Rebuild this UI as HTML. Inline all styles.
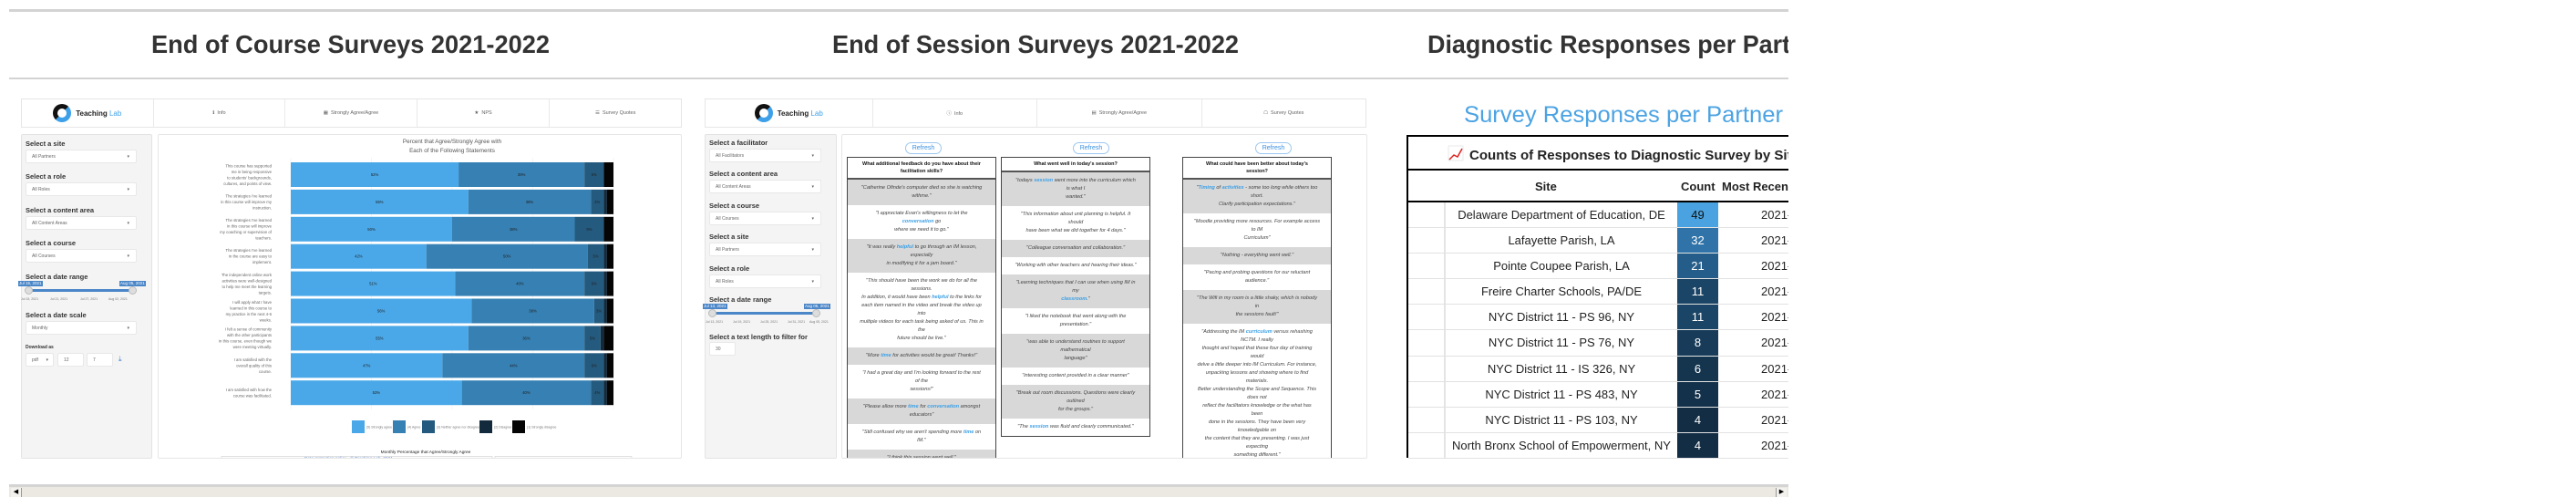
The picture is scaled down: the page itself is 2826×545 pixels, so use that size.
<!DOCTYPE html>
<html><head><meta charset="utf-8">
<style>
*{box-sizing:border-box;margin:0;padding:0}
body{width:2826px;height:545px;background:#fff;overflow:hidden;font-family:"Liberation Sans",sans-serif;position:relative}
.abs{position:absolute}
.hline{position:absolute;left:10px;width:1952px;background:#d3d3d3}
.nav{position:absolute;top:108px;height:32px;background:#fff;border:1px solid #e6e6e6;display:flex}
.nav div{border-left:1px solid #e9e9e9;font-size:5.5px;color:#666;display:flex;align-items:center;justify-content:center;height:100%}
.nav div:first-child{border-left:none}
.side{position:absolute;top:147px;height:356px;background:#f4f4f4;border:1px solid #e3e3e3;border-radius:2px}
.lbl{position:absolute;left:4px;font-size:7.5px;font-weight:bold;color:#333;white-space:nowrap}
.inp{position:absolute;left:4px;height:15px;background:#fff;border:1px solid #e8e8e8;border-radius:2px;font-size:5px;color:#666;padding-left:6px;line-height:14px}
.inp .car{position:absolute;right:7px;top:0;font-size:5px}
.main{position:absolute;top:147px;height:356px;background:#fff;border:1px solid #e6e6e6;border-radius:2px;overflow:hidden}
.logo{display:flex;align-items:center;gap:5px}
.logo .c{width:20px;height:20px;border-radius:50%;border:5px solid #111;border-right-color:#3ea0e8;border-bottom-color:#3ea0e8}
.logo span{font-size:8px;color:#222;font-weight:bold}
.logo span b{color:#3ea0e8;font-weight:normal}
.qt{position:absolute;top:24px;width:164px;border:1.5px solid #444;background:#fff}
.qt .h{font-size:5.5px;font-weight:bold;text-align:center;line-height:8px;padding:3px 2px;border-bottom:2px solid #555;color:#111}
.qt .r{font-size:5.6px;font-style:italic;text-align:center;line-height:9px;padding:5px 2px;color:#444;white-space:nowrap;overflow:hidden}
.qt .g{background:#d8d8d8}
.qt b{color:#3a9fe6}
.refresh{position:absolute;top:8px;width:40px;height:13px;border:1px solid #9cc8f0;border-radius:7px;font-size:7px;color:#3a90e0;text-align:center;line-height:11px}
.slider{position:absolute;height:3px;background:#4a86c8}
.knob{position:absolute;width:9px;height:9px;border-radius:50%;background:#ddd;border:1px solid #bbb}
.badge{position:absolute;font-size:4.5px;color:#fff;background:#4a86c8;padding:0 1px;line-height:6px;white-space:nowrap}
.tick{position:absolute;font-size:3.5px;color:#777;white-space:nowrap}
table.diag{border-collapse:collapse;font-size:13px;color:#222}
</style></head><body>
<div class="abs" style="left:0;top:0;width:1962px;height:545px;overflow:hidden">

<div class="hline" style="top:10px;height:3px"></div>
<div class="hline" style="top:85px;height:2px"></div>

<svg class="abs" style="left:0;top:0" width="1962" height="80">
<text x="166" y="58" font-family="Liberation Sans" font-weight="bold" font-size="28" fill="#333" textLength="437" lengthAdjust="spacingAndGlyphs">End of Course Surveys 2021-2022</text>
<text x="913" y="58" font-family="Liberation Sans" font-weight="bold" font-size="28" fill="#333" textLength="446" lengthAdjust="spacingAndGlyphs">End of Session Surveys 2021-2022</text>
<text x="1566" y="58" font-family="Liberation Sans" font-weight="bold" font-size="28" fill="#333" textLength="440" lengthAdjust="spacingAndGlyphs">Diagnostic Responses per Partner</text>
</svg>

<!-- PANEL 1 -->
<div class="nav" style="left:23px;width:725px">
 <div style="width:144px" class="logo"><i class="c"></i><span>Teaching <b>Lab</b></span></div>
 <div style="width:145px">ℹ&nbsp; Info</div>
 <div style="width:145px">▦&nbsp; Strongly Agree/Agree</div>
 <div style="width:146px">★&nbsp; NPS</div>
 <div style="width:145px">☰&nbsp; Survey Quotes</div>
</div>
<div class="side" style="left:23px;width:144px">
 <div class="lbl" style="top:5px">Select a site</div>
 <div class="inp" style="top:16px;width:122px">All Partners<span class="car">▾</span></div>
 <div class="lbl" style="top:41px">Select a role</div>
 <div class="inp" style="top:52px;width:122px">All Roles<span class="car">▾</span></div>
 <div class="lbl" style="top:78px">Select a content area</div>
 <div class="inp" style="top:89px;width:122px">All Content Areas<span class="car">▾</span></div>
 <div class="lbl" style="top:114px">Select a course</div>
 <div class="inp" style="top:125px;width:122px">All Courses<span class="car">▾</span></div>
 <div class="lbl" style="top:151px">Select a date range</div>
 <div class="badge" style="left:-4px;top:160px">Jul 15, 2021</div>
 <div class="badge" style="left:107px;top:160px">Aug 05, 2021</div>
 <div class="slider" style="left:8px;width:114px;top:169px"></div>
 <div class="knob" style="left:3px;top:166px"></div>
 <div class="knob" style="left:117px;top:166px"></div>
 <div class="tick" style="left:-1px;top:178px">Jul 15, 2021</div><div class="tick" style="left:31px;top:178px">Jul 21, 2021</div><div class="tick" style="left:64px;top:178px">Jul 27, 2021</div><div class="tick" style="left:95px;top:178px">Aug 02, 2021</div>
 <div class="lbl" style="top:193px">Select a date scale</div>
 <div class="inp" style="top:204px;width:122px">Monthly<span class="car">▾</span></div>
 <div class="lbl" style="top:230px;font-size:5px">Download as</div>
 <div class="inp" style="top:239px;width:31px">pdf<span class="car" style="right:5px">▾</span></div>
 <div class="inp" style="top:239px;left:39px;width:29px">12</div>
 <div class="inp" style="top:239px;left:71px;width:29px">7</div>
 <div class="abs" style="left:106px;top:241px;font-size:8px;color:#3a7fd0">⤓</div>
</div>
<div class="main" style="left:173px;width:575px">
 <svg id="chart" class="abs" style="left:-173px;top:-147px" width="748" height="503"></svg>
</div>

<!-- PANEL 2 -->
<div class="nav" style="left:773px;width:726px">
 <div style="width:183px" class="logo"><i class="c"></i><span>Teaching <b>Lab</b></span></div>
 <div style="width:181px">ⓘ&nbsp; Info</div>
 <div style="width:181px">▤&nbsp; Strongly Agree/Agree</div>
 <div style="width:181px">☖&nbsp; Survey Quotes</div>
</div>
<div class="side" style="left:773px;width:145px">
 <div class="lbl" style="top:4px">Select a facilitator</div>
 <div class="inp" style="top:15px;width:123px">All Facilitators<span class="car">▾</span></div>
 <div class="lbl" style="top:38px">Select a content area</div>
 <div class="inp" style="top:49px;width:123px">All Content Areas<span class="car">▾</span></div>
 <div class="lbl" style="top:73px">Select a course</div>
 <div class="inp" style="top:84px;width:123px">All Courses<span class="car">▾</span></div>
 <div class="lbl" style="top:107px">Select a site</div>
 <div class="inp" style="top:118px;width:123px">All Partners<span class="car">▾</span></div>
 <div class="lbl" style="top:142px">Select a role</div>
 <div class="inp" style="top:153px;width:123px">All Roles<span class="car">▾</span></div>
 <div class="lbl" style="top:176px">Select a date range</div>
 <div class="badge" style="left:-3px;top:185px">Jul 13, 2021</div>
 <div class="badge" style="left:108px;top:185px">Aug 05, 2021</div>
 <div class="slider" style="left:8px;width:114px;top:194px"></div>
 <div class="knob" style="left:3px;top:191px"></div>
 <div class="knob" style="left:117px;top:191px"></div>
 <div class="tick" style="left:0px;top:203px">Jul 13, 2021</div><div class="tick" style="left:30px;top:203px">Jul 19, 2021</div><div class="tick" style="left:60px;top:203px">Jul 25, 2021</div><div class="tick" style="left:90px;top:203px">Jul 31, 2021</div><div class="tick" style="left:114px;top:203px">Aug 05, 2021</div>
 <div class="lbl" style="top:217px">Select a text length to filter for</div>
 <div class="inp" style="top:227px;width:29px">30</div>
</div>
<div class="main" style="left:923px;width:577px">
 <div class="refresh" style="left:69px">Refresh</div>
 <div class="refresh" style="left:253px">Refresh</div>
 <div class="refresh" style="left:453px">Refresh</div>
 <div class="qt" style="left:5px">
  <div class="h">What additional feedback do you have about their<br>facilitation skills?</div>
  <div class="r g">"Catherine Ofinde's computer died so she is watching<br>withme."</div>
  <div class="r">"I appreciate Evan's willingness to let the<br><b>conversation</b> go<br>where we need it to go."</div>
  <div class="r g">"It was really <b>helpful</b> to go through an IM lesson,<br>especially<br>in modifying it for a jam board."</div>
  <div class="r">"This should have been the work we do for all the<br>sessions.<br>In addition, it would have been <b>helpful</b> to the links for<br>each item named in the video and break the video up<br>into<br>multiple videos for each task being asked of us. This in<br>the<br>future should be live."</div>
  <div class="r g">"More <b>time</b> for activities would be great! Thanks!"</div>
  <div class="r">"I had a great day and I'm looking forward to the rest<br>of the<br>sessions!"</div>
  <div class="r g">"Please allow more <b>time</b> for <b>conversation</b> amongst<br>educators"</div>
  <div class="r">"Still confused why we aren't spending more <b>time</b> on<br>IM."</div>
  <div class="r g">"I think this session went well."<br>&nbsp;<br>&nbsp;</div>
 </div>
 <div class="qt" style="left:174px">
  <div class="h">What went well in today's session?</div>
  <div class="r g">"todays <b>session</b> went more into the curriculum which<br>is what I<br>wanted."</div>
  <div class="r">"This information about unit planning is helpful. It<br>should<br>have been what we did together for 4 days."</div>
  <div class="r g">"Colleague conversation and collaboration."</div>
  <div class="r">"Working with other teachers and hearing their ideas."</div>
  <div class="r g">"Learning techniques that I can use when using IM in<br>my<br><b>classroom</b>."</div>
  <div class="r">"I liked the notebook that went along with the<br>presentation."</div>
  <div class="r g">"was able to understand routines to support<br>mathematical<br>language"</div>
  <div class="r">"interesting content provided in a clear manner"</div>
  <div class="r g">"Break out room discussions. Questions were clearly<br>outlined<br>for the groups."</div>
  <div class="r">"The <b>session</b> was fluid and clearly communicated."</div>
 </div>
 <div class="qt" style="left:373px">
  <div class="h">What could have been better about today's<br>session?</div>
  <div class="r g">"<b>Timing</b> of <b>activities</b> - some too long while others too<br>short.<br>Clarify participation expectations."</div>
  <div class="r">"Moodle providing more resources. For example access<br>to IM<br>Curriculum"</div>
  <div class="r g">"Nothing - everything went well."</div>
  <div class="r">"Pacing and probing questions for our reluctant<br>audience."</div>
  <div class="r g">"The Wifi in my room is a little shaky, which is nobody<br>in<br>the sessions fault!"</div>
  <div class="r">"Addressing the IM <b>curriculum</b> versus rehashing<br>NCTM. I really<br>thought and hoped that these four day of training<br>would<br>delve a little deeper into IM Curriculum. For instance,<br>unpacking lessons and showing where to find<br>materials.<br>Better understanding the Scope and Sequence. This<br>does not<br>reflect the facilitators knowledge or the what has<br>been<br>done in the sessions. They have been very<br>knowledgable on<br>the content that they are presenting. I was just<br>expecting<br>something different."</div>
 </div>
</div>

<!-- PANEL 3 -->
<svg class="abs" style="left:1500px;top:100px" width="470" height="90">
<text x="106" y="34" font-family="Liberation Sans" font-size="25" fill="#4ba3e3" textLength="350" lengthAdjust="spacingAndGlyphs">Survey Responses per Partner</text>
<text x="112" y="75" font-family="Liberation Sans" font-weight="bold" font-size="15" fill="#222" textLength="362" lengthAdjust="spacingAndGlyphs">Counts of Responses to Diagnostic Survey by Site</text>
<polyline points="90,75 95,70 99,72 104,63" fill="none" stroke="#d22" stroke-width="1.5"/>
<rect x="89" y="60" width="16" height="16" fill="none" stroke="#ddd" stroke-width="0.6"/>
</svg>
<div class="abs" style="left:1543px;top:148px;width:440px;height:354px;border-left:2px solid #000;border-top:2px solid #000">
 <div class="abs" style="left:0;top:35px;width:440px;height:2px;background:#000"></div>
 <div class="abs" style="left:0;top:70px;width:440px;height:2px;background:#000"></div>
 <div class="abs" style="left:139px;top:47px;font-size:13px;font-weight:bold;color:#222">Site</div>
 <div class="abs" style="left:299px;top:47px;font-size:13px;font-weight:bold;color:#222">Count</div>
 <div class="abs" style="left:344px;top:47px;font-size:13px;font-weight:bold;color:#222;white-space:nowrap">Most Recent</div>
 <div id="rows" class="abs" style="left:0;top:72px;width:440px"></div>
</div>

<!-- scrollbar -->
<div class="abs" style="left:10px;top:531px;width:1952px;height:3px;background:#d4d4d4"></div>
<div class="abs" style="left:10px;top:534px;width:1952px;height:11px;background:#ece9e3">
 <div class="abs" style="left:2px;top:1px;width:12px;height:10px;background:#f4f2ee;border-right:1px solid #999;font-size:7px;line-height:10px;text-align:center">◀</div>
 <div class="abs" style="left:1938px;top:1px;width:12px;height:10px;background:#f4f2ee;border-left:1px solid #999;font-size:7px;line-height:10px;text-align:center">▶</div>
</div>
</div>

<script>
// ---- bar chart data ----
const statements = [
 ["This course has supported","me in being responsive","to students' backgrounds,","cultures, and points of view."],
 ["The strategies I've learned","in this course will improve my","instruction."],
 ["The strategies I've learned","in this course will improve","my coaching or supervision of","teachers."],
 ["The strategies I've learned","in the course are easy to","implement."],
 ["The independent online work","activities were well-designed","to help me meet the learning","targets."],
 ["I will apply what I have","learned in this course to","my practice in the next 4-6","weeks."],
 ["I felt a sense of community","with the other participants","in this course. even though we","were meeting virtually."],
 ["I am satisfied with the","overall quality of this","course."],
 ["I am satisfied with how the","course was facilitated."]
];
const stronglyAgree = [52,55,50,42,51,56,55,47,53];
const agree = [39,38,38,50,40,38,36,44,40];
const neither = [6,4,9,5,6,3,5,6,4];
const disagree = [0,1,0,1,1,1,1,1,1];
const stronglyDisagree = [3,2,3,2,2,2,3,2,2];
const legendLabels = ["(5) Strongly agree","(4) Agree","(3) Neither agree nor disagree","(2) Disagree","(1) Strongly disagree"];

const NS="http://www.w3.org/2000/svg";
const svg=document.getElementById('chart');
const X0=318,X1=672,Y0=177,STEP=29.9,BH=27;
function xScale(v){return X0+(v/100)*(X1-X0);}
function yScale(i){return Y0+i*STEP;}
function mk(tag,attrs){const e=document.createElementNS(NS,tag);for(const k in attrs)e.setAttribute(k,attrs[k]);svg.appendChild(e);return e;}
const colors=["#4aa8e8","#3680b3","#245a7e","#132a3c","#050505"];
// title
[["Percent that Agree/Strongly Agree with",156],["Each of the Following Statements",166]].forEach(function(t){
 const e=mk('text',{x:495,y:t[1],'font-size':6.3,'text-anchor':'middle',fill:'#555'});e.textContent=t[0];
 
 
});
// grid
[0,25,50,75,100].forEach(function(v){
 const g=mk('line',{x1:xScale(v),x2:xScale(v),y1:172,y2:448,stroke:'#eee','stroke-width':0.6});
 
 
});
const series=[stronglyAgree,agree,neither,disagree,stronglyDisagree];
statements.forEach(function(lines,i){
 const y=yScale(i);
 let acc=0;
 series.forEach(function(s,k){
  const v=s[i];
  const r=mk('rect',{x:xScale(acc),y:y,width:Math.max(0,xScale(acc+v)-xScale(acc)),height:BH,fill:colors[k]});
  
  
  if(k<3&&v>0){
   const t=mk('text',{x:(xScale(acc)+xScale(acc+v))/2,y:y+BH/2+1.5,'font-size':4.2,'text-anchor':'middle',fill:'#222'});
   t.textContent=v+'%';
   
   
  }
  acc+=v;
 });
 const lh=6.5,start=y+BH/2-(lines.length-1)*lh/2+1.5;
 lines.forEach(function(l,j){
  const t=mk('text',{x:297,y:start+j*lh,'font-size':4.3,'text-anchor':'end',fill:'#666'});
  t.textContent=l;
  
  
 });
});
// legend
const legX=[385,430,462,525,561];
legendLabels.forEach(function(l,k){
 const r=mk('rect',{x:legX[k],y:460,width:14,height:14,fill:colors[k]});
 
 
 const t=mk('text',{x:legX[k]+16,y:468.5,'font-size':3.5,fill:'#777'});t.textContent=l;
 
 
});
const mt=mk('text',{x:466,y:496,'font-size':4.8,'text-anchor':'middle',fill:'#222'});mt.textContent='Monthly Percentage that Agree/Strongly Agree';


mk('rect',{x:242,y:499.5,width:297,height:10,fill:'none',stroke:'#ccc','stroke-width':0.6});
mk('rect',{x:542,y:499.5,width:150,height:10,fill:'none',stroke:'#ccc','stroke-width':0.6});
const dp=mk('text',{x:333,y:503,'font-size':4.8,fill:'#6a8fd0'});dp.textContent='Data protection policy · © Teaching Lab, 2021';



// ---- diagnostic table data ----
const sites=["Delaware Department of Education, DE","Lafayette Parish, LA","Pointe Coupee Parish, LA","Freire Charter Schools, PA/DE","NYC District 11 - PS 96, NY","NYC District 11 - PS 76, NY","NYC District 11 - IS 326, NY","NYC District 11 - PS 483, NY","NYC District 11 - PS 103, NY","North Bronx School of Empowerment, NY"];
const counts=[49,32,21,11,11,8,6,5,4,4];
const cellColors=["#4aa3e0","#2f73a8","#245d89","#1b4566","#1b4566","#173b58","#15354f","#13314a","#122d44","#122d44"];
const rowsEl=document.getElementById('rows');
sites.forEach(function(s,i){
 const row=document.createElement('div');
 
 
 row.style.cssText='position:relative;height:28.1px;border-bottom:1px solid #e2e2e2';
 row.innerHTML='<div style="position:absolute;left:39px;top:0;width:2px;height:100%;background:#e4e4e4"></div>'+
  '<div style="position:absolute;left:41px;width:254px;text-align:center;top:6px;font-size:13px;color:#222;white-space:nowrap">'+s+'</div>'+
  '<div style="position:absolute;left:295px;width:45px;top:0;height:100%;background:'+cellColors[i]+';color:'+(i===0?'#111':'#fff')+';text-align:center;font-size:13px;line-height:28px">'+counts[i]+'</div>'+
  '<div style="position:absolute;left:387px;top:6px;font-size:13px;color:#222;white-space:nowrap">2021-08-05</div>';
 rowsEl.appendChild(row);
});
</script>
</body></html>
